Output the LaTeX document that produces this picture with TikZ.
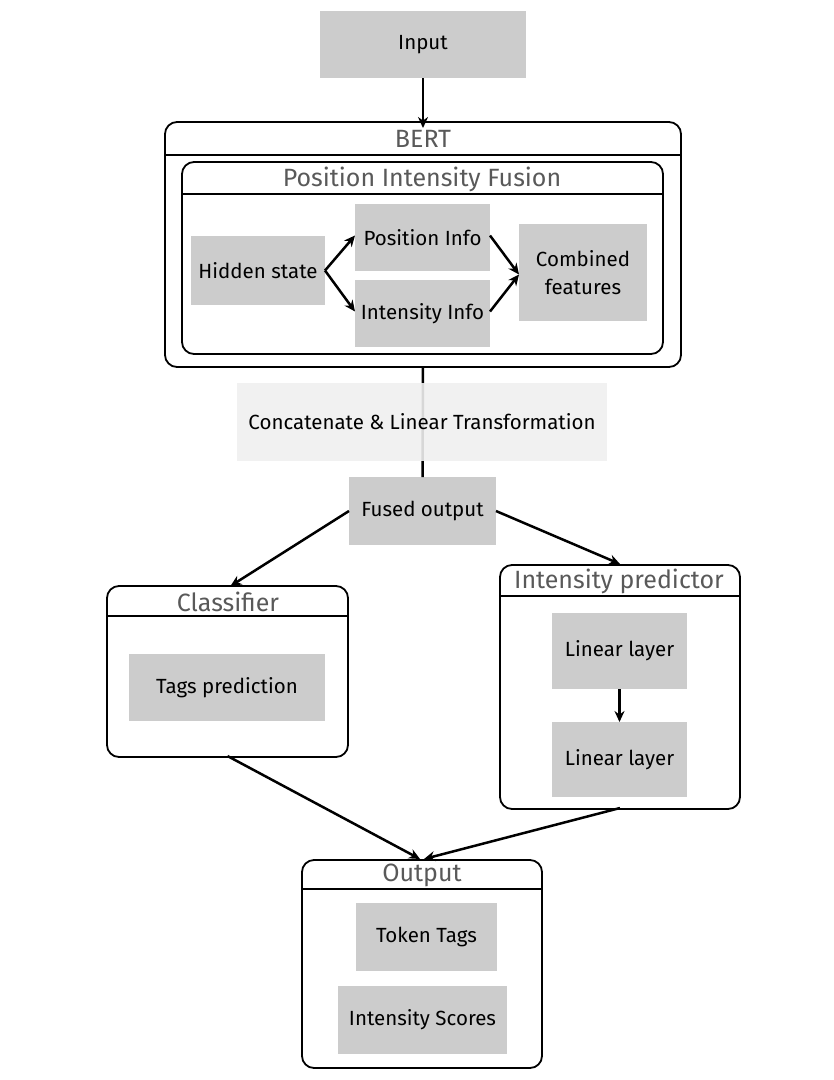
\documentclass[tikz,border=0pt]{standalone}
\usepackage{fontspec}
\setmainfont{Fira Sans}
\usetikzlibrary{arrows.meta}
\definecolor{boxgray}{HTML}{CCCCCC}
\definecolor{concatgray}{HTML}{EFEFEF}
\definecolor{titlegray}{HTML}{595959}
\tikzset{
  gbox/.style={fill=boxgray, draw=none, inner sep=0pt, outer sep=0pt, align=center,
    font=\fontsize{20.5}{28}\selectfont},
  container/.style={draw=black, line width=1.8pt, rounded corners=12pt, inner sep=0pt, outer sep=0pt},
  ctitle/.style={text=titlegray, inner sep=0pt, font=\fontsize{25}{30}\selectfont},
  arr/.style={-{Stealth[length=11pt,width=10pt]}, line width=2.5pt},
  plain/.style={line width=2.5pt},
}
\begin{document}
\begin{tikzpicture}[x=1pt,y=-1pt]
\useasboundingbox (0,0) rectangle (834,1080);

% Input
\node[gbox, minimum width=206, minimum height=67] (input) at (423,44.5) {\raisebox{-3pt}{Input}};

% BERT container
\node[container, minimum width=516, minimum height=245] (bert) at (423,244.5) {};
\node[ctitle] (berttitle) at (423,139) {BERT};
\draw[line width=1.8pt] (bert.west |- 0,155) -- (bert.east |- 0,155);

% Position Intensity Fusion container
\node[container, minimum width=481, minimum height=192] (pif) at (422.5,258) {};
\node[ctitle] (piftitle) at (422,179) {Position Intensity Fusion};
\draw[line width=1.8pt] (pif.west |- 0,194) -- (pif.east |- 0,194);

\node[gbox, minimum width=134, minimum height=69] (hidden) at (258,270.5) {Hidden state};
\node[gbox, minimum width=135, minimum height=67] (posinfo) at (422.5,237.5) {\raisebox{-2pt}{Position Info}};
\node[gbox, minimum width=135, minimum height=67] (intinfo) at (422.5,313.5) {\raisebox{-2pt}{Intensity Info}};
\node[gbox, minimum width=128, minimum height=97] (combined) at (583,272.5) {Combined\\features};

\draw[arr] (hidden.east) -- ([yshift=2pt]posinfo.west);
\draw[arr] (hidden.east) -- ([yshift=2pt]intinfo.west);
\draw[arr] ([yshift=2pt]posinfo.east) -- ([yshift=-2pt]combined.west);
\draw[arr] ([yshift=2pt]intinfo.east) -- ([yshift=-2pt]combined.west);

\draw[arr] (input.south) -- ([yshift=-6pt]bert.north);

% Fused output and concat
\node[gbox, minimum width=147, minimum height=68] (fused) at (422.5,511) {\raisebox{-2pt}{Fused output}};
\draw[plain] (bert.south) -- (fused.north);
\node[gbox, fill=concatgray, fill opacity=0.9, text opacity=1, minimum width=370, minimum height=78] (concat) at (422,422) {Concatenate \& Linear Transformation};

% Classifier
\node[container, minimum width=241, minimum height=171] (classifier) at (227.5,671.5) {};
\node[ctitle] (classtitle) at (228,602) {Classifier};
\draw[line width=1.8pt] (classifier.west |- 0,616) -- (classifier.east |- 0,616);
\node[gbox, minimum width=196, minimum height=67] (tags) at (227,687.5) {\raisebox{-2pt}{Tags prediction}};

% Intensity predictor
\node[container, minimum width=240, minimum height=244] (ip) at (620,687) {};
\node[ctitle] (iptitle) at (619,581) {Intensity predictor};
\draw[line width=1.8pt] (ip.west |- 0,596) -- (ip.east |- 0,596);
\node[gbox, minimum width=135, minimum height=76] (ll1) at (619.5,651) {\raisebox{-2pt}{Linear layer}};
\node[gbox, minimum width=135, minimum height=75] (ll2) at (619.5,759.5) {\raisebox{-2pt}{Linear layer}};
\draw[arr] (ll1.south) -- (ll2.north);

% Output
\node[container, minimum width=240, minimum height=208] (output) at (422,964) {};
\node[ctitle] (outtitle) at (422,875) {Output};
\draw[line width=1.8pt] (output.west |- 0,889) -- (output.east |- 0,889);
\node[gbox, minimum width=141, minimum height=68] (tokentags) at (426.5,937) {\raisebox{-2pt}{Token Tags}};
\node[gbox, minimum width=169, minimum height=68] (scores) at (422.5,1020) {\raisebox{-2pt}{Intensity Scores}};

% Connectors
\draw[arr] (fused.west) -- ([xshift=3pt]classifier.north);
\draw[arr] (fused.east) -- ([yshift=1pt]ip.north);
\draw[arr] ([xshift=0pt,yshift=1pt]classifier.south) -- ([xshift=-2pt,yshift=1pt]output.north);
\draw[arr] ([yshift=1pt]ip.south) -- ([xshift=2pt,yshift=1pt]output.north);
\end{tikzpicture}
\end{document}
